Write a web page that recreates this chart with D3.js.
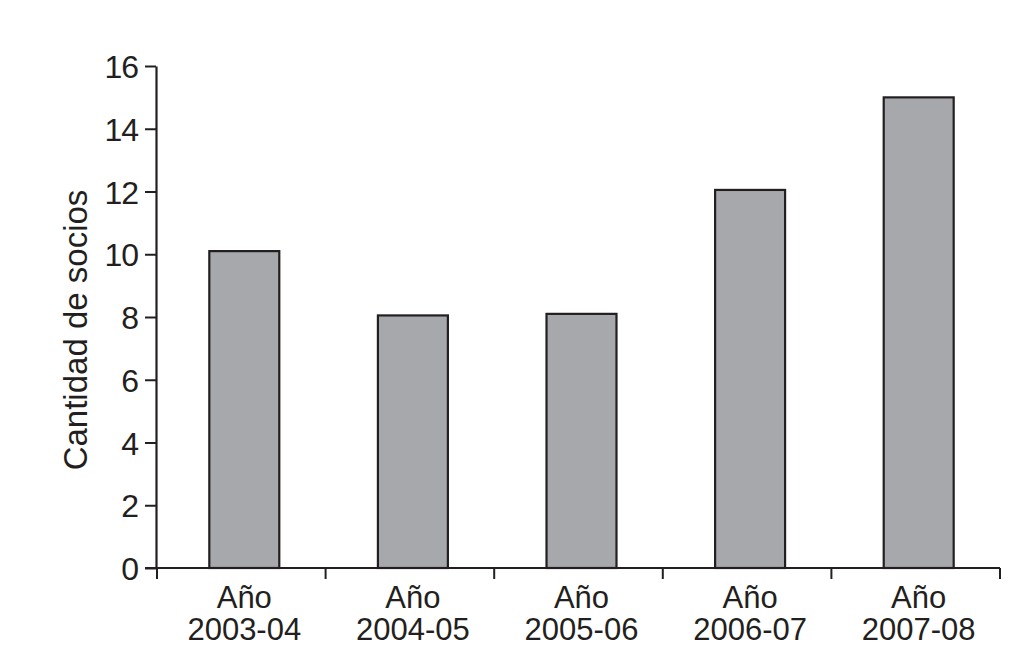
<!DOCTYPE html>
<html><head><meta charset="utf-8">
<script src="https://cdn.jsdelivr.net/npm/d3@7"></script>
<style>body{margin:0;background:#fff}svg{display:block}text{font-family:"Liberation Sans",Arial,sans-serif;fill:#231f20}</style>
</head><body>
<script>
const categories = ["Año 2003-04","Año 2004-05","Año 2005-06","Año 2006-07","Año 2007-08"];
const values = [10.1, 8.05, 8.1, 12.05, 15.0];
const yTicks = [0,2,4,6,8,10,12,14,16];
const yLabel = "Cantidad de socios";

const W=1012,H=666;
const svg=d3.select("body").append("svg").attr("width",W).attr("height",H);
const x=d3.scaleBand().domain(categories).range([157,1000]).paddingInner(0.585).paddingOuter(0.2925);
const y=d3.scaleLinear().domain([0,16]).range([568,66]);
const ink="#231f20";

// bars
svg.selectAll("rect.bar").data(values).enter().append("rect")
  .attr("x",(d,i)=>x(categories[i])+3).attr("width",x.bandwidth())
  .attr("y",d=>y(d)).attr("height",d=>y(0)-y(d))
  .attr("fill","#a7a8ab").attr("stroke",ink).attr("stroke-width",2.2);

// y axis
const ya=svg.append("g").attr("transform","translate(156,0)")
  .call(d3.axisLeft(y).tickValues(yTicks).tickSize(11).tickPadding(7).tickSizeOuter(0));
ya.select(".domain").attr("stroke",ink).attr("stroke-width",2.2);
ya.selectAll(".tick line").attr("stroke",ink).attr("stroke-width",2);
ya.selectAll(".tick text").attr("font-size",32).attr("fill",ink).attr("dy","0.36em").attr("letter-spacing",-1);

// x axis
const xa=svg.append("g");
xa.append("line").attr("x1",145).attr("x2",1000).attr("y1",y(0)).attr("y2",y(0)).attr("stroke",ink).attr("stroke-width",2.2);
const edges=[157];
categories.forEach((c,i)=>edges.push(157+(i+1)*x.step()));
xa.selectAll("line.xt").data(edges).enter().append("line")
  .attr("x1",d=>d).attr("x2",d=>d).attr("y1",y(0)).attr("y2",y(0)+11)
  .attr("stroke",ink).attr("stroke-width",2);
categories.forEach(c=>{
  const cx=x(c)+3+x.bandwidth()/2;
  const parts=c.split(" ");
  xa.append("text").attr("text-anchor","middle").attr("font-size",31).attr("fill",ink)
    .attr("x",cx).attr("y",608).text(parts[0]);
  xa.append("text").attr("text-anchor","middle").attr("font-size",31).attr("fill",ink)
    .attr("x",cx).attr("y",640).text(parts[1]);
});

svg.append("text").attr("transform","translate(87,330) rotate(-90)")
  .attr("text-anchor","middle").attr("font-size",33).attr("fill",ink).text(yLabel);
</script>
</body></html>
